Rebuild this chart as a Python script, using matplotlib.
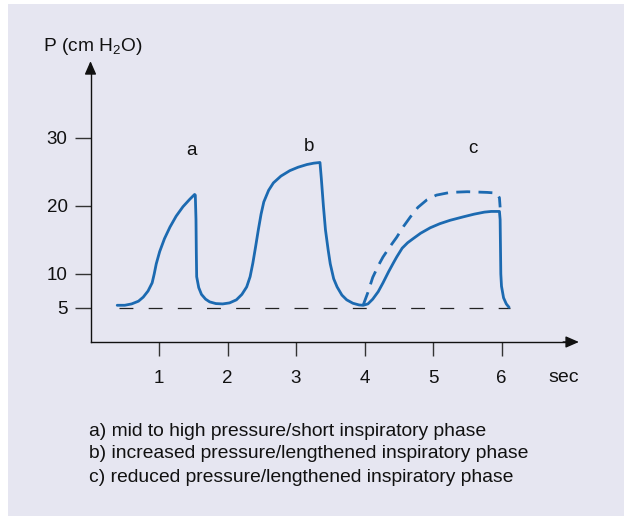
import matplotlib
matplotlib.use("Agg")
import matplotlib.pyplot as plt
from matplotlib.patches import Rectangle

plt.rcParams['font.family'] = ['Liberation Sans', 'DejaVu Sans']
plt.rcParams['mathtext.default'] = 'regular'
plt.rcParams['lines.scale_dashes'] = False

# ---- data ----
solid_t = [0.39, 0.5, 0.6, 0.7, 0.77, 0.84, 0.90, 0.93, 0.96, 1.01, 1.08, 1.16, 1.25, 1.35, 1.45, 1.52, 1.53,
           1.54, 1.545, 1.55, 1.58, 1.62, 1.68, 1.74, 1.83, 1.93, 2.03, 2.13, 2.21, 2.28, 2.33, 2.37, 2.41,
           2.45, 2.49, 2.53, 2.6, 2.67, 2.78, 2.91, 3.03, 3.16, 3.26, 3.35,
           3.37, 3.40, 3.43, 3.47, 3.50, 3.55, 3.60, 3.67, 3.74, 3.83, 3.92, 3.98,
           4.05, 4.12, 4.2, 4.27, 4.35, 4.42, 4.47, 4.55, 4.63, 4.71, 4.82, 4.96, 5.1, 5.25, 5.44, 5.6,
           5.75, 5.85, 5.97,
           5.98, 5.985, 5.99, 6.0, 6.03, 6.07, 6.11]
solid_p = [5.4, 5.4, 5.6, 6.0, 6.6, 7.5, 8.7, 10.0, 11.5, 13.3, 15.2, 16.9, 18.5, 19.9, 21.0, 21.7, 21.6,
           18.0, 13.0, 9.6, 8.0, 7.0, 6.3, 5.9, 5.65, 5.6, 5.75, 6.2, 7.0, 8.1, 9.6, 11.6, 14.0,
           16.5, 18.8, 20.6, 22.3, 23.4, 24.4, 25.2, 25.7, 26.1, 26.3, 26.4,
           24.0, 20.0, 16.5, 13.5, 11.5, 9.3, 8.1, 6.9, 6.2, 5.7, 5.45, 5.4,
           5.6, 6.3, 7.4, 8.7, 10.3, 11.6, 12.5, 13.8, 14.6, 15.2, 16.0, 16.8, 17.4, 17.9, 18.4, 18.8,
           19.1, 19.2, 19.2,
           18.0, 14.0, 10.0, 8.2, 6.5, 5.6, 5.1]

dashed_t = [3.98, 4.05, 4.12, 4.2, 4.27, 4.37, 4.47, 4.57, 4.67, 4.78, 4.91, 5.05, 5.25, 5.5, 5.79, 5.93, 5.97, 5.98]
dashed_p = [5.4, 7.3, 9.5, 11.2, 12.5, 14.0, 15.4, 17.0, 18.4, 19.8, 20.9, 21.6, 22.0, 22.1, 22.0, 21.9, 21.2, 19.8]

peep_t = [0.42, 6.13]
peep_p = [5, 5]

x_ticks = [1, 2, 3, 4, 5, 6]
y_ticks = [5, 10, 20, 30]
curve_labels = ['a', 'b', 'c']
curve_label_t = [1.47, 3.19, 5.58]
curve_label_p = [28.2, 28.8, 28.5]
notes = ['a) mid to high pressure/short inspiratory phase',
         'b) increased pressure/lengthened inspiratory phase',
         'c) reduced pressure/lengthened inspiratory phase']

# ---- figure ----
W, H = 627, 516
fig = plt.figure(figsize=(W / 100, H / 100), dpi=100, facecolor='white')
fig.patches.append(Rectangle((8 / W, 0), (624 - 8) / W, (516 - 4) / H, transform=fig.transFigure,
                             facecolor='#E6E6F1', edgecolor='none', zorder=-10))

# axes mapping: px_x = 90.5 + 68.5*t ; px_y = 342 - 6.8*p
x0, x1 = -0.5, 7.5
y0, y1 = -5, 45
lpx = 90.5 + 68.5 * x0
rpx = 90.5 + 68.5 * x1
bpx = 342 - 6.8 * y0
tpx = 342 - 6.8 * y1
ax = fig.add_axes([lpx / W, 1 - bpx / H, (rpx - lpx) / W, (bpx - tpx) / H])
ax.set_xlim(x0, x1)
ax.set_ylim(y0, y1)
ax.patch.set_visible(False)

blue = '#1C6AB1'
ax.plot(solid_t, solid_p, color=blue, lw=2.0, solid_joinstyle='round', solid_capstyle='round', zorder=3)
ax.plot(dashed_t, dashed_p, color=blue, lw=2.0, linestyle=(0, (10, 6)), zorder=3)
ax.plot(peep_t, peep_p, color='#222222', lw=0.9, linestyle=(0, (10, 11)), zorder=2)

for s in ['top', 'right']:
    ax.spines[s].set_visible(False)
ax.spines['left'].set_position(('data', 0))
ax.spines['bottom'].set_position(('data', 0))
ax.spines['left'].set_bounds(0, 40.5)
ax.spines['bottom'].set_bounds(0, 7.0)
for s in ['left', 'bottom']:
    ax.spines[s].set_linewidth(1.0)
    ax.spines[s].set_color('#111111')

ax.annotate('', xy=(0, 41.3), xytext=(0, 39.5),
            arrowprops=dict(arrowstyle='-|>,head_length=0.8,head_width=0.35', color='#111111', lw=1.0,
                            shrinkA=0, shrinkB=0))
ax.annotate('', xy=(7.13, 0), xytext=(6.9, 0),
            arrowprops=dict(arrowstyle='-|>,head_length=0.8,head_width=0.35', color='#111111', lw=1.0,
                            shrinkA=0, shrinkB=0))

ax.set_xticks(x_ticks)
ax.set_xticklabels([str(v) for v in x_ticks])
ax.set_yticks(y_ticks)
ax.set_yticklabels([str(v) for v in y_ticks])
ax.tick_params(axis='x', direction='out', length=10, width=1.0, color='#333333', pad=10,
               labelsize=13.5, labelcolor='#111111')
ax.tick_params(axis='y', direction='out', length=11.5, width=1.0, color='#333333', pad=5,
               labelsize=13.5, labelcolor='#111111')

for lab, t, p in zip(curve_labels, curve_label_t, curve_label_p):
    ax.text(t, p, lab, ha='center', va='center', fontsize=13.5, color='#111111')

fig.text(43 / W, 1 - 47 / H, 'P (cm H$_2$O)', ha='left', va='center', fontsize=13.8, color='#111111')
fig.text(548 / W, 1 - 378 / H, 'sec', ha='left', va='center', fontsize=14, color='#111111')

for i, n in enumerate(notes):
    fig.text(89 / W, 1 - (431 + 23 * i) / H, n, ha='left', va='center', fontsize=13.9, color='#111111')

fig.savefig('out.png', dpi=100, facecolor='white')
